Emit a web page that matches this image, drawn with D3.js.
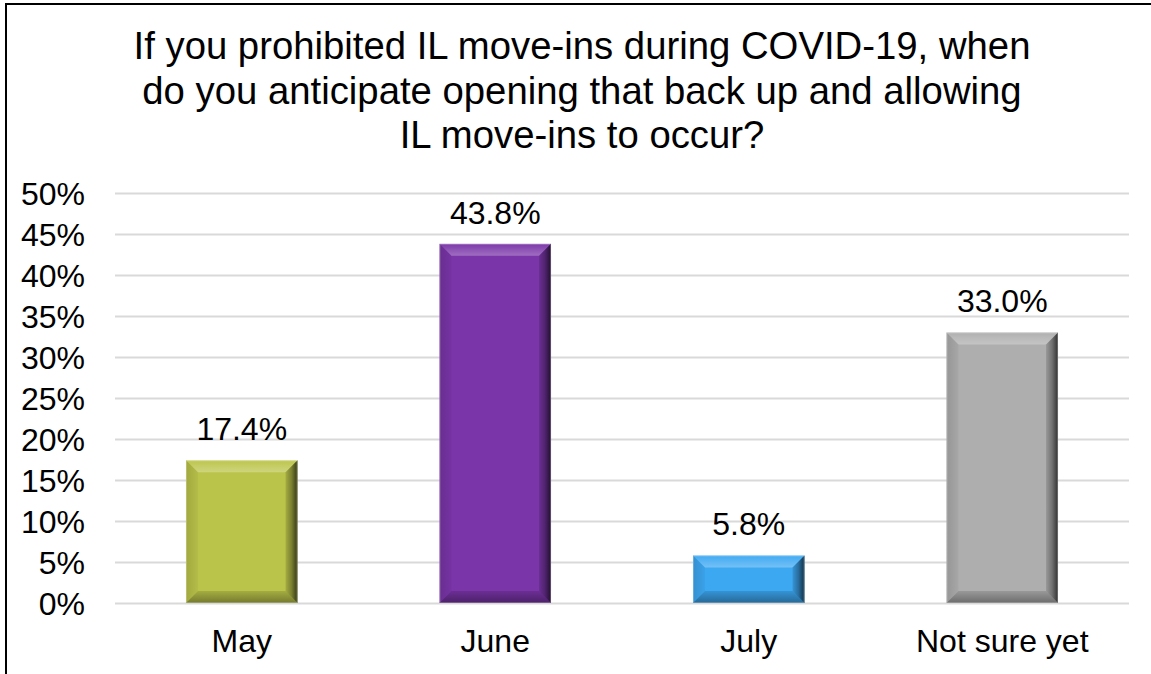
<!DOCTYPE html>
<html>
<head>
<meta charset="utf-8">
<script src="https://cdn.jsdelivr.net/npm/d3@7"></script>
<style>
  html, body { margin: 0; padding: 0; background: #fff; }
  svg { display: block; font-family: "Liberation Sans", Arial, sans-serif; }
</style>
</head>
<body>
<svg id="chart" width="1151" height="674"></svg>
<script>
// Survey answers and their shares (percent)
const categories = ["May", "June", "July", "Not sure yet"];
const values = [17.4, 43.8, 5.8, 33.0];
const barColors = ["#BBC44A", "#7A35A8", "#3DA8F2", "#AEAEAE"];
const tickValues = [0, 5, 10, 15, 20, 25, 30, 35, 40, 45, 50];
const titleLines = [
  "If you prohibited IL move-ins during COVID-19, when",
  "do you anticipate opening that back up and allowing",
  "IL move-ins to occur?"
];

const W = 1151, H = 674;
const plot = { left: 115, right: 1129, top: 193, bottom: 603 };
const labelSize = 32;

const svg = d3.select("#chart");

// Outer frame (left and top edges visible)
svg.append("path")
  .attr("d", `M6,${H} V4 H${W}`)
  .attr("fill", "none")
  .attr("stroke", "#000")
  .attr("stroke-width", 2);

// Title
svg.append("g")
  .selectAll("text")
  .data(titleLines)
  .join("text")
  .attr("x", 582)
  .attr("y", (d, i) => 59 + i * 44.5)
  .attr("text-anchor", "middle")
  .attr("font-size", 38.3)
  .attr("fill", "#000")
  .text(d => d);

const x = d3.scaleBand()
  .domain(categories)
  .range([plot.left, plot.right])
  .paddingInner(0.56)
  .paddingOuter(0.28);

const y = d3.scaleLinear()
  .domain([0, 50])
  .range([plot.bottom, plot.top]);

// Gridlines
svg.append("g")
  .selectAll("line")
  .data(tickValues)
  .join("line")
  .attr("x1", plot.left)
  .attr("x2", plot.right)
  .attr("y1", d => Math.round(y(d)) + 0.5)
  .attr("y2", d => Math.round(y(d)) + 0.5)
  .attr("stroke", "#D9D9D9")
  .attr("stroke-width", 2);

// Y axis labels
const yAxis = d3.axisLeft(y)
  .tickValues(tickValues)
  .tickFormat(d => d + "%")
  .tickSize(0)
  .tickPadding(0);
const yg = svg.append("g")
  .attr("transform", "translate(85,0)")
  .call(yAxis);
yg.select(".domain").remove();
yg.selectAll("text")
  .attr("font-size", labelSize)
  .attr("font-family", "Liberation Sans, Arial, sans-serif")
  .attr("fill", "#000")
  .attr("dy", "0.36em");

// X axis labels
const xAxis = d3.axisBottom(x).tickSize(0).tickPadding(0);
const xg = svg.append("g")
  .attr("transform", `translate(0,${plot.bottom})`)
  .call(xAxis);
xg.select(".domain").remove();
xg.selectAll("text")
  .attr("font-size", labelSize)
  .attr("font-family", "Liberation Sans, Arial, sans-serif")
  .attr("fill", "#000")
  .attr("dy", 0)
  .attr("y", 49);

// Bevel shading gradients (shared overlays)
const defs = svg.append("defs");
function grad(id, x1, y1, x2, y2, stops) {
  const g = defs.append("linearGradient").attr("id", id)
    .attr("x1", x1).attr("y1", y1).attr("x2", x2).attr("y2", y2);
  stops.forEach(s => g.append("stop")
    .attr("offset", s[0]).attr("stop-color", s[1]).attr("stop-opacity", s[2]));
}
grad("bevTop", 0, 0, 0, 1, [[0, "#fff", 0.02], [0.6, "#fff", 0.18], [1, "#fff", 0.28]]);
grad("bevLeft", 0, 0, 1, 0, [[0, "#000", 0.14], [1, "#000", 0.04]]);
grad("bevRight", 0, 0, 1, 0, [[0, "#000", 0.12], [0.5, "#000", 0.35], [1, "#000", 0.72]]);
grad("bevBottom", 0, 0, 0, 1, [[0, "#000", 0.12], [1, "#000", 0.38]]);

const bev = 12;
const bars = svg.append("g")
  .selectAll("g")
  .data(categories.map((c, i) => ({ c, v: values[i], color: barColors[i] })))
  .join("g");

bars.each(function(d) {
  const g = d3.select(this);
  const x0 = x(d.c), x1 = x0 + x.bandwidth();
  const y0 = y(d.v), y1 = y(0);
  const b = Math.min(bev, (y1 - y0) / 3);
  g.append("rect")
    .attr("x", x0).attr("y", y0)
    .attr("width", x1 - x0).attr("height", y1 - y0)
    .attr("fill", d.color);
  const poly = pts => pts.map(p => p.join(",")).join(" ");
  g.append("polygon")
    .attr("points", poly([[x0, y0], [x1, y0], [x1 - b, y0 + b], [x0 + b, y0 + b]]))
    .attr("fill", "url(#bevTop)");
  g.append("polygon")
    .attr("points", poly([[x0, y0], [x0 + b, y0 + b], [x0 + b, y1 - b], [x0, y1]]))
    .attr("fill", "url(#bevLeft)");
  g.append("polygon")
    .attr("points", poly([[x1, y0], [x1, y1], [x1 - b, y1 - b], [x1 - b, y0 + b]]))
    .attr("fill", "url(#bevRight)");
  g.append("polygon")
    .attr("points", poly([[x0, y1], [x0 + b, y1 - b], [x1 - b, y1 - b], [x1, y1]]))
    .attr("fill", "url(#bevBottom)");
  g.append("rect")
    .attr("x", x0 + 0.5).attr("y", y0 + 0.5)
    .attr("width", x1 - x0 - 1).attr("height", y1 - y0 - 1)
    .attr("fill", "none")
    .attr("stroke", "#fff").attr("stroke-opacity", 0.25).attr("stroke-width", 1);
});

// Value labels
svg.append("g")
  .selectAll("text")
  .data(categories.map((c, i) => ({ c, v: values[i] })))
  .join("text")
  .attr("x", d => x(d.c) + x.bandwidth() / 2)
  .attr("y", d => y(d.v) - 20)
  .attr("text-anchor", "middle")
  .attr("font-size", labelSize)
  .attr("fill", "#000")
  .text(d => d.v.toFixed(1) + "%");
</script>
</body>
</html>
